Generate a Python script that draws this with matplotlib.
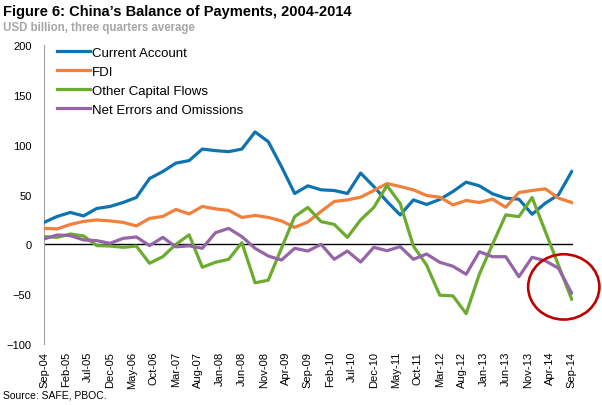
import matplotlib
matplotlib.use('Agg')
import matplotlib.pyplot as plt
from matplotlib.patches import Ellipse
import numpy as np

plt.rcParams['font.family'] = ['Liberation Sans', 'DejaVu Sans']

# quarterly data, Sep-04 .. Sep-14 (USD bn, 3q average)
current_account = [22, 28, 32, 28.5, 36, 38, 42, 47, 66, 73, 81.5, 84, 95.6, 94, 93,
                   95.6, 112.8, 103, 78, 51, 58.7, 54.7, 54, 51, 71.5, 58, 43, 29.5,
                   44.6, 40, 45, 53, 62.4, 58.7, 50.7, 46.3, 45.3, 30.2, 41.3, 49.7, 73]
fdi = [16, 15.5, 20, 23, 24.5, 23.5, 22, 18.5, 26, 28, 35, 30.5, 38, 35.6, 34, 27, 29,
       27, 23.5, 17, 22.5, 33, 43, 44.6, 47.3, 54, 61, 58, 54.7, 49, 47.3, 39.6, 44, 42,
       45.3, 37.2, 52, 54, 55.7, 46.3, 42]
other_capital = [7.7, 7, 10.4, 8.4, -1.3, -1.7, -3, -1.7, -19, -12.4, 0, 9.5, -23, -18,
                 -15, 1.7, -38.6, -36, -4, 27.8, 37, 22.8, 20, 7, 24.5, 37, 59, 41, -1.7,
                 -20.8, -51, -51.7, -69.5, -30, 0, 29.5, 27.8, 47, 13, -21, -55]
net_errors = [5.4, 9.4, 8.7, 4.4, 3.7, 1, 6, 7.4, -1.3, 7, -2.5, -1.5, -4, 11.7, 16, 7.7,
              -4, -11.7, -15.8, -4, -6.7, 0, -15, -6.7, -17.8, -3, -6.4, -2.3, -15, -9.7,
              -18, -22, -30, -7.4, -12.4, -12.4, -32.5, -13, -16.5, -24, -49]

tick_labels = ['Sep-04', 'Feb-05', 'Jul-05', 'Dec-05', 'May-06', 'Oct-06', 'Mar-07',
               'Aug-07', 'Jan-08', 'Jun-08', 'Nov-08', 'Apr-09', 'Sep-09', 'Feb-10',
               'Jul-10', 'Dec-10', 'May-11', 'Oct-11', 'Mar-12', 'Aug-12', 'Jan-13',
               'Jun-13', 'Nov-13', 'Apr-14', 'Sep-14']

x = np.arange(len(current_account))
tick_pos = np.arange(len(tick_labels)) * 5 / 3.0

fig = plt.figure(figsize=(6.02, 4.06), dpi=100)
ax = fig.add_axes([44 / 602, 1 - 345 / 406, (573 - 44) / 602, (345 - 46) / 406])

ax.axhline(0, color='black', lw=1, zorder=1)
ax.plot(x, current_account, color='#0e74b0', lw=2.3, label='Current Account', zorder=3)
ax.plot(x, fdi, color='#f0803c', lw=2.3, label='FDI', zorder=3)
ax.plot(x, other_capital, color='#6bab2e', lw=2.3, label='Other Capital Flows', zorder=3)
ax.plot(x, net_errors, color='#9565a8', lw=2.3, label='Net Errors and Omissions', zorder=3)

ax.add_patch(Ellipse((39.4, -42.7), 5.4, 65.5, fill=False, edgecolor='#c00000',
                     lw=1.9, clip_on=False, zorder=4))

ax.set_xlim(0, 40.1)
ax.set_ylim(-100, 200)
ax.set_yticks([-100, -50, 0, 50, 100, 150, 200])
ax.set_xticks(tick_pos)
ax.set_xticklabels(tick_labels, rotation=90)
ax.tick_params(axis='both', length=0, labelsize=8)
ax.tick_params(axis='y', pad=9)
ax.tick_params(axis='x', pad=5)
for s in ['top', 'right', 'bottom']:
    ax.spines[s].set_visible(False)
ax.spines['left'].set_color('#a0a0a0')

ax.legend(loc='upper left', bbox_to_anchor=(0.015, 1.013), frameon=False, fontsize=9.5,
          handlelength=2.5, handletextpad=0.15, labelspacing=0.52, borderaxespad=0)

fig.text(3 / 602, 1 - 12 / 406, "Figure 6: China\u2019s Balance of Payments, 2004-2014",
         fontsize=10.5, fontweight='bold', va='center', ha='left')
fig.text(3 / 602, 1 - 28 / 406, "USD billion, three quarters average",
         fontsize=8.3, fontweight='bold', color='#a6a6a6', va='center', ha='left')
fig.text(3 / 602, 1 - 396 / 406, "Source: SAFE, PBOC.", fontsize=7.5, va='center', ha='left')

fig.savefig('out.png', dpi=100)
